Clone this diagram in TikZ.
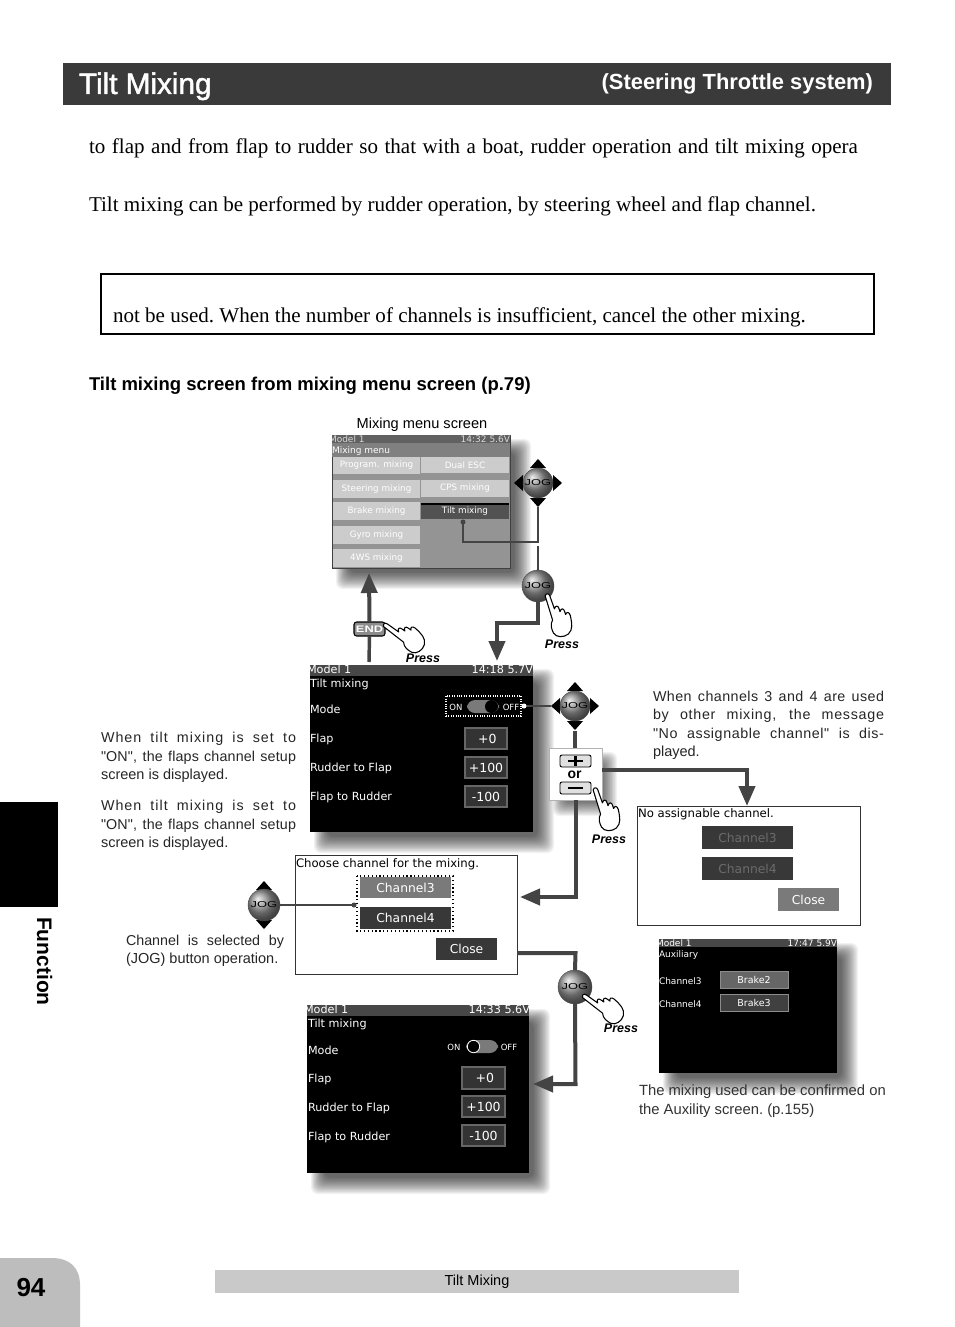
\documentclass[tikz,border=0pt]{standalone}
\usepackage{fontspec}
\setmainfont{Liberation Serif}
\setsansfont{Liberation Sans}
\newfontfamily\scr{DejaVu Sans}
\newfontfamily\capf{Liberation Sans}
\newfontfamily\ttl[FakeBold=1.6]{Liberation Sans}
\usetikzlibrary{arrows.meta}
\definecolor{cband}{HTML}{3A3A3A}
\definecolor{cline}{HTML}{444444}
\definecolor{cpage}{HTML}{BDBDBD}
\definecolor{cfoot}{HTML}{C9C9C9}
\newcommand\fs[1]{\fontsize{\fpeval{#1*0.75}}{\fpeval{#1*0.9}}\selectfont}
\newcounter{tn}
% [opts]{x}{y-centre}{text}
\newcommand\lbl[4][]{\stepcounter{tn}\node[txt,#1] (t\arabic{tn}) at (#2,{#3+4}) {#4};}
% fitted sans line [letterspace]{x}{y}{width px}{text}
\newcommand\fit[5][5]{\stepcounter{tn}\node[txt,font=\capf\fs{14.3}\addfontfeature{LetterSpace=#1},text=black!85] (t\arabic{tn}) at (#2,{#3+5}) {\makebox[\fpeval{#4*0.75}pt][s]{#5}};}
\newcommand\rr[7][]{\node[rb,minimum width={(#5-#3)*0.75pt},minimum height={(#6-#4)*0.75pt},#1] (#2) at ({(#3+#5)/2},{(#4+#6)/2}) {#7};}
\newcommand\shad[4]{\foreach \i in {0,...,15}{\fill[black,opacity=.05,rounded corners=5pt] ({#1+4+.9*\i},{#2+4+.9*\i}) rectangle ({#3+21-1.1*\i},{#4+21-1.1*\i});}}
\newcommand\jog[4]{\node[jogn,minimum size={#4*0.75pt}] (#1) at (#2,#3) {\scalebox{1.5}[1]{JOG}};}
\newcommand\triN[2]{\fill[black] (#1-8,#2-15)--(#1+8,#2-15)--(#1,#2-24)--cycle;}
\newcommand\triS[2]{\fill[black] (#1-8,#2+15)--(#1+8,#2+15)--(#1,#2+24)--cycle;}
\newcommand\triW[2]{\fill[black] (#1-15,#2-8)--(#1-15,#2+8)--(#1-24,#2)--cycle;}
\newcommand\triE[2]{\fill[black] (#1+15,#2-8)--(#1+15,#2+8)--(#1+24,#2)--cycle;}
\tikzset{
 txt/.style={anchor=base west,inner sep=0pt,outer sep=0pt},
 rb/.style={rectangle,inner sep=0pt,outer sep=0pt},
 body/.style={txt,font=\rmfamily\fs{21.05}\frenchspacing,text=black},
 stxt/.style={txt,font=\scr\fs{11.2},text=white},
 vbox/.style={rb,draw=black!60,line width=.9pt,fill=black!80,text=white,font=\scr\fs{12.5}},
 conn/.style={draw=cline,line width=3pt,line join=miter},
 head/.style={conn,-{Triangle[length=15pt,width=12pt]}},
 thin/.style={draw=cline,line width=.8pt},
 jogn/.style={circle,inner sep=0pt,outer sep=0pt,ball color=black!42,draw=black!70,line width=.3pt,font=\sffamily\fs{8.6},text=black},
 press/.style={txt,font=\sffamily\bfseries\itshape\fs{12.5},text=black},
 menub/.style={rb,fill=black!20,text=white,font=\scr\fs{8.8}},
 whb/.style={rb,fill=white,draw=black!80,line width=.55pt},
 chb/.style={rb,text=white,font=\scr\fs{12.3}},
 handshape/.pic={\draw[fill=white,draw=black,line width=.8pt,line join=round,scale=.93]
   (-2,2) .. controls (-1,-1) and (2,-1) .. (3,2) -- (8,16)
   .. controls (9,12) and (12,12) .. (13,16) -- (14,19)
   .. controls (15,15) and (18,15) .. (19,19) -- (20,22)
   .. controls (21,19) and (24,19) .. (25,23)
   .. controls (27,32) and (28,38) .. (23,43)
   .. controls (18,47) and (10,47) .. (7,42)
   .. controls (5,38) and (3,33) .. (6,28) -- cycle;},
}
\begin{document}
\begin{tikzpicture}[x=0.75pt,y=-0.75pt]
\useasboundingbox (0,0) rectangle (954,1327);
\fill[white] (0,0) rectangle (954,1327);
% header
\rr[fill=cband]{band}{63}{63}{891}{105}{}
\node[txt,font=\ttl\fs{29.7},text=white] (title) at (79,94) {Tilt Mixing};
\node[txt,anchor=base east,font=\sffamily\bfseries\fs{21.9},text=white] (subtitle) at (873,90) {(Steering Throttle system)};
% body
\node[body] (b1) at (89,154) {\makebox[\fpeval{769*0.75}pt][s]{to flap and from flap to rudder so that with a boat, rudder operation and tilt mixing opera}};
\node[body] (b2) at (89,211) {Tilt mixing can be performed by rudder operation, by steering wheel and flap channel.};
\draw[line width=1.5pt] (101,334) -- (101,274) -- (874,274) -- (874,334) -- cycle;
\node[body] (b3) at (113,322) {not be used. When the number of channels is insufficient, cancel the other mixing.};
\node[txt,font=\sffamily\bfseries\fs{18.5}] (head) at (89,390) {Tilt mixing screen from mixing menu screen (p.79)};
% side tab
\rr[fill=black]{tab}{0}{802}{58}{907}{}
\node[txt,anchor=base west,rotate=-90,font=\sffamily\bfseries\fs{21}] (func) at (37,917) {Function};
% page
\fill[cpage] (0,1327) -- (0,1258) -- (52,1258) .. controls (70,1258) and (80,1268) .. (80,1285) -- (80,1327) -- cycle;
\node[txt,anchor=base,font=\sffamily\bfseries\fs{26}] (pg) at (31,1296) {94};
\rr[fill=cfoot,font=\sffamily\fs{14.5},text=black]{foot}{215}{1270}{739}{1293}{Tilt Mixing}

% ---------- menu screen
\shad{332}{435}{510}{568}
\node[txt,anchor=base,font=\sffamily\fs{14.6}] (mmcap) at (422,428) {Mixing menu screen};
\rr[fill=black!42,draw=black!75,line width=.7pt]{menu}{332}{435}{510}{568}{}
\begin{scope}
\clip (332,435) rectangle (510,568);
\fill[black!62] (332,435) rectangle (510,443);
\fill[black!50] (332,443) rectangle (510,457);
\node[txt,font=\scr\fs{9},text=black!15] (m0) at (329,442) {Model 1};
\node[txt,anchor=base east,font=\scr\fs{9},text=black!15] (m1) at (510,442) {14:32 5.6V};
\node[txt,font=\scr\fs{9},text=white] (m2) at (332,453) {Mixing menu};
\rr[menub]{mb1}{333}{457}{420}{474}{Program. mixing}
\rr[menub]{mb2}{333}{480}{420}{498}{Steering mixing}
\rr[menub]{mb3}{333}{502}{420}{520}{Brake mixing}
\rr[menub]{mb4}{333}{526}{420}{544}{Gyro mixing}
\rr[menub]{mb5}{333}{549}{420}{567}{4WS mixing}
\rr[menub]{mb6}{421}{457}{509}{473}{Dual ESC}
\rr[menub]{mb7}{421}{480}{509}{497}{CPS mixing}
\rr[menub,fill=black!68]{mb8}{421}{504}{509}{519}{\raisebox{-3pt}{Tilt mixing}}
\fill[black] (421,503) rectangle (509,505);
\end{scope}
% connectors & jog upper
\coordinate (dotA) at (463,522);
\coordinate (endA) at (369,573);
\triN{538}{483}\triS{538}{483}\triW{538}{483}\triE{538}{483}
\jog{jogA}{538}{483}{30}
\jog{jogB}{538}{586}{32}
\draw[draw=cline,line width=1.7pt] (538,507) -- (538,542) -| (dotA);
\fill[cline] (dotA) circle (2.5);
\draw[draw=cline,line width=2pt] (538,546) -- (jogB.north);
\coordinate (tipB) at (497,661);
\draw[head] (jogB.south) -- (538,623) -| (tipB);
\rr[fill=black!45,draw=black,line width=.8pt,rounded corners=2pt,text=white,font=\sffamily\bfseries\fs{9.5}]{endb}{354}{622}{385}{636}{\scalebox{1.35}[1]{END}}
\draw[draw=cline,line width=2.6pt] (369,662) -- (endb.south);
\draw[head] (endb.north) -- (endA);
\pic (hA) at (384,624) [rotate=35] {handshape};
\pic (hB) at (547,594) {handshape};
\node[press,anchor=base] (pA) at (423,662) {Press};
\node[press,anchor=base] (pB) at (562,648) {Press};

% ---------- tilt screen 1
\shad{310}{665}{533}{832}
\rr[fill=black]{scrA}{310}{665}{533}{832}{}
\begin{scope}
\clip (310,665) rectangle (533,832);
\fill[black!72] (310,665) rectangle (533,676);
\lbl[stxt]{307}{669}{Model 1}
\lbl[stxt,anchor=base east]{533}{669}{14:18 5.7V}
\lbl[stxt]{310}{683}{Tilt mixing}
\lbl[stxt]{310}{709}{Mode}
\lbl[stxt]{310}{738}{Flap}
\lbl[stxt]{310}{767}{Rudder to Flap}
\lbl[stxt]{310}{796}{Flap to Rudder}
\end{scope}
\rr[vbox]{vA1}{465}{728}{507}{749}{\hspace*{2pt}+0}
\rr[vbox]{vA2}{465}{757}{507}{778}{+100}
\rr[vbox]{vA3}{465}{786}{507}{807}{-100}
\rr[draw=white,densely dotted,line width=.8pt]{togA}{446}{696}{521}{716}{}
\node[txt,anchor=base,font=\scr\fs{8.5},text=white] (onA) at (456,710) {ON};
\node[txt,anchor=base,font=\scr\fs{8.5},text=white] (offA) at (511,710) {OFF};
\fill[black!52,rounded corners=6pt] (467,700) rectangle (499,713);
\fill[black] (491.5,706.5) circle (6.5);
\triN{575}{706}\triS{575}{706}\triW{575}{706}\triE{575}{706}
\jog{jogC}{575}{706}{30}
\coordinate (dotC) at (524,706);
\draw[draw=cline,line width=1.2pt] (dotC) -- (551,706);
\fill[white] (dotC) circle (2.5);
% plus/minus
\shad{549}{748}{596}{795}
\draw[draw=cline,line width=2.4pt] (575,731) -- (575,748);
\rr[fill=white,draw=black!30,line width=.6pt]{pm}{549}{748}{602}{800}{}
\rr[fill=black!12,draw=black,line width=.7pt,rounded corners=1.5pt]{plus}{560}{755}{591}{767}{}
\rr[fill=black!12,draw=black,line width=.7pt,rounded corners=1.5pt]{minus}{560}{782}{591}{794}{}
\draw[line width=1.6pt] (568,761) -- (583,761) (575.5,756) -- (575.5,766) (568,788) -- (583,788);
\node[txt,anchor=base,font=\sffamily\bfseries\fs{14}] (orl) at (574.5,778) {or};
\coordinate (tipD) at (747,806);
\coordinate (tipE) at (520,897);
\draw[head] (pm.east |- 0,770) -- (747,770) -- (tipD);
\draw[head] (pm.south) -- (575.5,897) -- (tipE);
\pic (hC) at (595,788) {handshape};
\node[press,anchor=base] (pC) at (609,843) {Press};

% ---------- choose box
\rr[whb]{chs}{295}{855}{517}{974}{}
\lbl[txt,font=\scr\fs{11.7}]{296}{863}{Choose channel for the mixing.}
\rr[chb,fill=black!52]{ch3}{360}{877}{451}{898}{Channel3}
\rr[chb,fill=black!78]{ch4}{360}{907}{451}{929}{Channel4}
\draw[black,dotted,line width=.9pt] (357,876) rectangle (453,931);
\rr[chb,fill=black!78]{cl1}{436}{938}{497}{960}{Close}
\triN{264}{905}\triS{264}{905}
\jog{jogD}{264}{905}{32}
\coordinate (dotD) at (354,905);
\draw[draw=cline,line width=.8pt] (jogD.east) -- (dotD);
\fill[cline] (dotD) circle (2.5);
% ---------- no assignable
\rr[whb]{noa}{637}{806}{860}{925}{}
\lbl[txt,font=\scr\fs{11.7}]{638}{813}{No assignable channel.}
\rr[chb,fill=black!78,text=black!58]{na3}{702}{826}{793}{849}{Channel3}
\rr[chb,fill=black!78,text=black!58]{na4}{702}{857}{793}{880}{Channel4}
\rr[chb,fill=black!52]{cl2}{778}{888}{839}{911}{Close}
% ---------- auxiliary
\shad{659}{939}{837}{1073}
\rr[fill=black]{aux}{659}{939}{837}{1073}{}
\begin{scope}
\clip (659,939) rectangle (837,1073);
\fill[black!72] (659,939) rectangle (837,947);
\lbl[stxt,font=\scr\fs{9}]{656}{942}{Model 1}
\lbl[stxt,font=\scr\fs{9},anchor=base east]{837}{942}{17:47 5.9V}
\lbl[stxt,font=\scr\fs{9}]{659}{953}{Auxiliary}
\lbl[stxt,font=\scr\fs{9}]{659}{980}{Channel3}
\lbl[stxt,font=\scr\fs{9}]{659}{1003}{Channel4}
\end{scope}
\rr[rb,fill=black!60,draw=black!45,line width=.6pt,text=white,font=\scr\fs{9.5}]{br2}{720}{971}{788}{988}{Brake2}
\rr[rb,fill=black!75,draw=black!45,line width=.6pt,text=white,font=\scr\fs{9.5}]{br3}{720}{994}{788}{1011}{Brake3}
% ---------- tilt screen 2
\shad{307}{1005}{529}{1173}
\rr[fill=black]{scrB}{307}{1005}{529}{1173}{}
\begin{scope}
\clip (307,1005) rectangle (529,1173);
\fill[black!72] (307,1005) rectangle (529,1016);
\lbl[stxt]{304}{1009}{Model 1}
\lbl[stxt,anchor=base east]{530}{1009}{14:33 5.6V}
\lbl[stxt]{308}{1023}{Tilt mixing}
\lbl[stxt]{308}{1050}{Mode}
\lbl[stxt]{308}{1078}{Flap}
\lbl[stxt]{308}{1107}{Rudder to Flap}
\lbl[stxt]{308}{1136}{Flap to Rudder}
\end{scope}
\rr[vbox]{vB1}{462}{1067}{505}{1089}{\hspace*{2pt}+0}
\rr[vbox]{vB2}{462}{1096}{505}{1117}{+100}
\rr[vbox]{vB3}{462}{1125}{505}{1146}{-100}
\node[txt,anchor=base,font=\scr\fs{8.5},text=white] (onB) at (454,1050) {ON};
\node[txt,anchor=base,font=\scr\fs{8.5},text=white] (offB) at (509,1050) {OFF};
\fill[black!52,rounded corners=6pt] (466,1040) rectangle (498,1053);
\draw[white,line width=.6pt,fill=black] (473.5,1046.5) circle (6.2);
% connector lower
\jog{jogE}{575}{987}{34}
\coordinate (tipF) at (533,1084);
\draw[conn] (chs.east |- 0,953) -- (575.5,953) -- (jogE.north);
\draw[head] (jogE.south) -- (575.5,1084) -- (tipF);
\pic (hD) at (583,995) [rotate=35] {handshape};
\node[press,anchor=base] (pD) at (621,1032) {Press};
% ---------- captions
\fit[7]{101}{737}{195}{When tilt mixing is set to}
\fit[1]{101}{756}{195}{"ON", the flaps channel setup}
\lbl[txt,font=\capf\fs{14.5},text=black!85]{101}{775}{screen is displayed.}
\fit[7]{101}{805}{195}{When tilt mixing is set to}
\fit[1]{101}{824}{195}{"ON", the flaps channel setup}
\lbl[txt,font=\capf\fs{14.5},text=black!85]{101}{843}{screen is displayed.}
\fit[0]{126}{940}{158}{Channel is selected by}
\lbl[txt,font=\capf\fs{14.5},text=black!85]{126}{959}{(JOG) button operation.}
\fit[3]{653}{696}{231}{When channels 3 and 4 are used}
\fit[5]{653}{714}{231}{by other mixing, the message}
\fit[4]{653}{733}{231}{"No assignable channel" is dis-}
\lbl[txt,font=\capf\fs{14.5},text=black!85]{653}{752}{played.}
\lbl[txt,font=\capf\fs{14.8}\frenchspacing,text=black!80]{639}{1091}{The mixing used can be confirmed on}
\lbl[txt,font=\capf\fs{14.8}\frenchspacing,text=black!80]{639}{1110}{the Auxility screen. (p.155)}
\end{tikzpicture}
\end{document}
